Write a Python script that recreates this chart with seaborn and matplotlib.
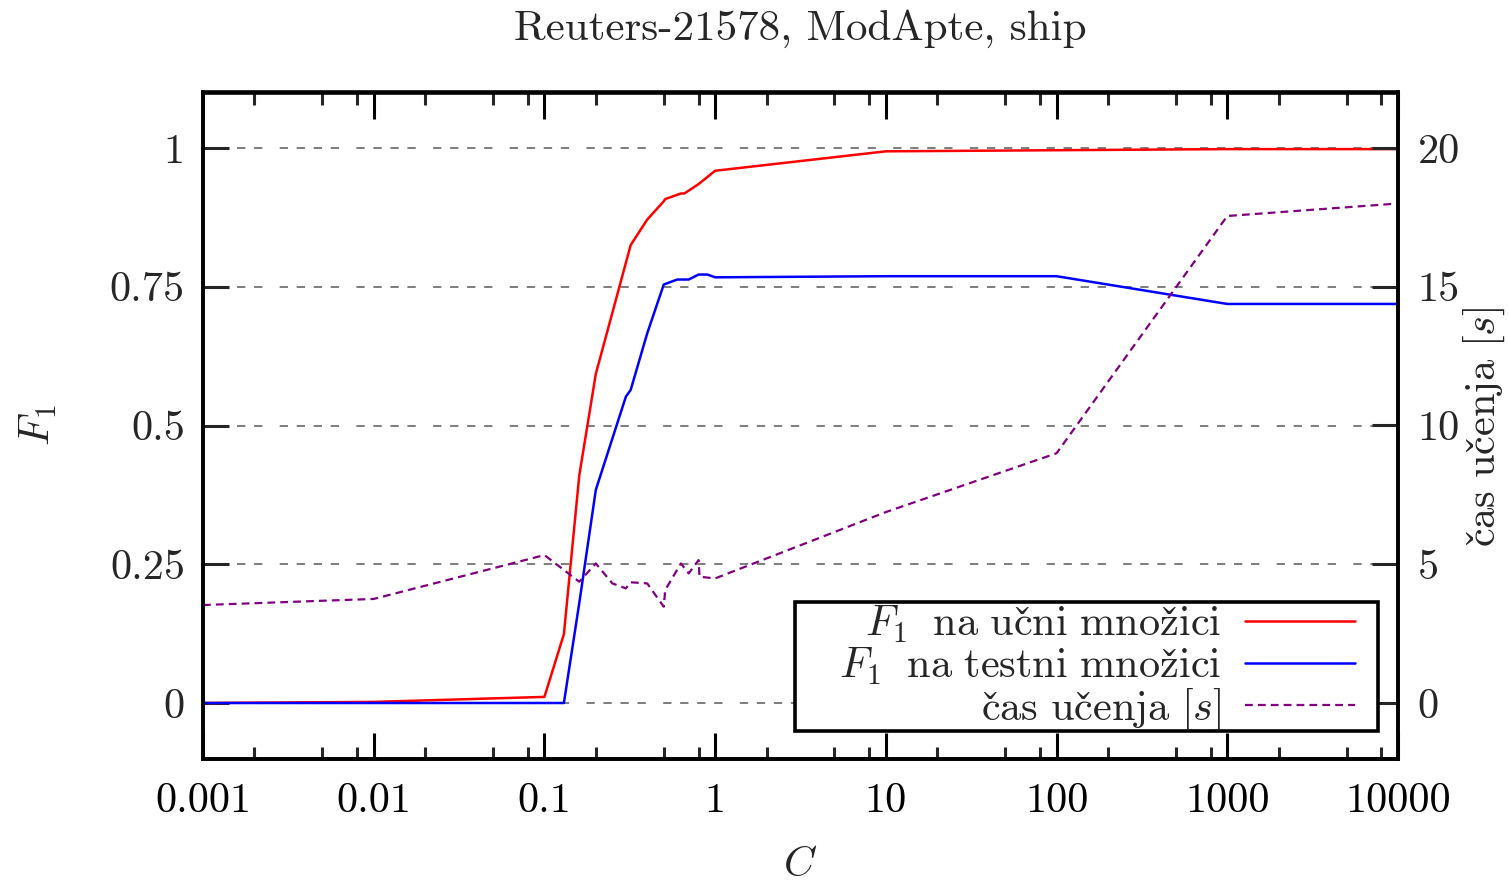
import matplotlib
matplotlib.use("Agg")
import matplotlib.pyplot as plt
import matplotlib.ticker as mticker
from matplotlib.patches import Rectangle
import seaborn as sns

# ---- data ----
train_C = [0.001, 0.01, 0.1, 0.13, 0.16, 0.2, 0.32, 0.4, 0.5, 0.51, 0.63, 0.66, 0.8, 1, 10, 100, 1000, 10000]
train_F1 = [0.0, 0.002, 0.011, 0.124, 0.41, 0.593, 0.825, 0.871, 0.904, 0.908, 0.918, 0.918, 0.935, 0.959, 0.994, 0.996, 0.998, 0.998]

test_C = [0.001, 0.01, 0.1, 0.13, 0.16, 0.2, 0.3, 0.32, 0.4, 0.5, 0.6, 0.7, 0.8, 0.9, 1, 10, 100, 1000, 10000]
test_F1 = [0.0, 0.0, 0.0, 0.0, 0.18, 0.384, 0.552, 0.564, 0.666, 0.754, 0.763, 0.763, 0.772, 0.772, 0.767, 0.769, 0.769, 0.719, 0.719]

time_C = [0.001, 0.01, 0.1, 0.16, 0.2, 0.25, 0.3, 0.32, 0.4, 0.5, 0.51, 0.63, 0.7, 0.8, 0.81, 1, 10, 100, 1000, 10000]
time_s = [3.53, 3.75, 5.33, 4.37, 5.03, 4.31, 4.13, 4.35, 4.31, 3.47, 4.07, 5.03, 4.67, 5.15, 4.55, 4.49, 6.88, 9.0, 17.55, 18.0]

x_ticks = [0.001, 0.01, 0.1, 1, 10, 100, 1000, 10000]
x_tick_labels = ["0.001", "0.01", "0.1", "1", "10", "100", "1000", "10000"]
y_ticks = [0, 0.25, 0.5, 0.75, 1]
y_tick_labels = ["0", "0.25", "0.5", "0.75", "1"]
y2_ticks = [0, 5, 10, 15, 20]
y2_tick_labels = ["0", "5", "10", "15", "20"]

title = "Reuters-21578, ModApte, ship"
# č and ž built as c/z followed by a combining caron (mathtext)
label_train = r"$F_1\ \;\mathrm{na\ u{c\check}ni\ mno{z\check}ici}$"
label_test = r"$F_1\ \;\mathrm{na\ testni\ mno{z\check}ici}$"
label_time = r"$\mathrm{{c\check}as\ u{c\check}enja}\ [s]$"

# ---- style ----
sns.set_style("white")
FS = 30.5
plt.rcParams["font.family"] = ["cmr10", "STIXGeneral", "DejaVu Serif"]
plt.rcParams["mathtext.fontset"] = "cm"
plt.rcParams["axes.unicode_minus"] = False
plt.rcParams["axes.formatter.use_mathtext"] = True

W, H = 1508, 882
L, R, T, B = 203, 1398, 92.5, 758.5
fig = plt.figure(figsize=(W / 100, H / 100), dpi=100)
ax = fig.add_axes([L / W, 1 - B / H, (R - L) / W, (B - T) / H])
ax2 = ax.twinx()

sns.lineplot(x=train_C, y=train_F1, ax=ax, color="#ff0000", linewidth=1.8, label=label_train, legend=False)
sns.lineplot(x=test_C, y=test_F1, ax=ax, color="#0000ff", linewidth=1.8, label=label_test, legend=False)
sns.lineplot(x=time_C, y=time_s, ax=ax2, color="#800080", linewidth=1.6,
             linestyle=(0, (3.5, 2.3)), label=label_time, legend=False)

ax.set_xscale("log")
ax.set_xlim(0.001, 10000)
ax.set_ylim(-0.1, 1.1)
ax2.set_ylim(-2, 22)

ax.set_xticks(x_ticks)
ax.set_xticklabels(x_tick_labels)
ax.xaxis.set_minor_locator(mticker.LogLocator(base=10, subs=[2, 5, 8], numticks=50))
ax.xaxis.set_minor_formatter(mticker.NullFormatter())
ax.set_yticks(y_ticks)
ax.set_yticklabels(y_tick_labels)
ax2.set_yticks(y2_ticks)
ax2.set_yticklabels(y2_tick_labels)

# horizontal dashed grid (gnuplot-like: four dashes then a longer gap)
for yv in y_ticks:
    ax.axhline(yv, color="#808080", linewidth=1.45,
               dashes=(4.13, 4.32, 4.13, 4.32, 4.13, 4.32, 4.13, 8.6), zorder=0.5)

for a in (ax, ax2):
    for s in a.spines.values():
        s.set_linewidth(2.6)
        s.set_color("black")
        s.set_visible(True)

ax.tick_params(axis="x", which="major", direction="in", length=18.5, width=2.2,
               top=True, bottom=True, labelsize=FS, pad=17, colors="black")
ax.tick_params(axis="x", which="minor", direction="in", length=8.6, width=2.2,
               top=True, bottom=True)
ax.tick_params(axis="y", which="major", direction="in", length=19, width=2.2,
               left=True, right=False, labelsize=FS, pad=13)
ax2.tick_params(axis="y", which="major", direction="in", length=19, width=2.2,
                left=False, right=True, labelsize=FS, pad=14)
ax2.tick_params(axis="y", which="minor", right=False, left=False)
ax.tick_params(axis="y", which="minor", left=False, right=False)

ax.set_xlabel("")
ax.set_ylabel("")
ax2.set_ylabel("")

fig.text(800.5 / W, 1 - 40 / H, title, ha="center", va="baseline", fontsize=31)
fig.text(800.5 / W, 1 - 865 / H, r"$C$", ha="center", va="center", fontsize=FS)
fig.text(38 / W, 1 - 425 / H, r"$F_1$", ha="center", va="center", rotation=90, fontsize=FS)
fig.text(1484 / W, 1 - 427 / H, label_time, ha="center", va="center", rotation=90, fontsize=FS)

# legend box (frame drawn separately for exact placement)
box = Rectangle(((795 - L) / (R - L), (B - 731) / (B - T)),
                (1378 - 795) / (R - L), (731 - 602) / (B - T),
                transform=ax2.transAxes, facecolor="white", edgecolor="black",
                linewidth=2.6, zorder=10, clip_on=False)
ax2.add_patch(box)

handles = ax.get_lines()[:2] + ax2.get_lines()[:1]
labels = [label_train, label_test, label_time]
leg = ax2.legend(handles, labels, loc="lower right",
                 bbox_to_anchor=((1355 - L) / (R - L), (B - 732) / (B - T)),
                 markerfirst=False, fontsize=FS, frameon=False,
                 handlelength=2.6, handletextpad=0.55,
                 labelspacing=0.0, borderpad=0, borderaxespad=0)
leg.set_zorder(11)

fig.savefig("out.png", dpi=100)
